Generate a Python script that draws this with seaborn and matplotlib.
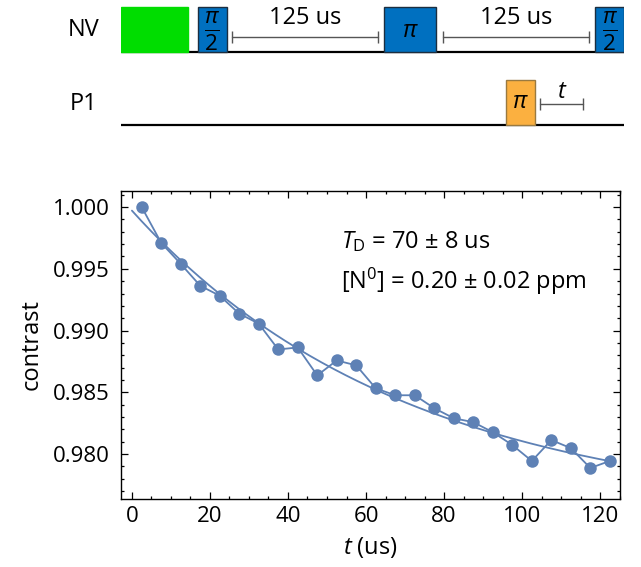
import numpy as np
import pandas as pd
import matplotlib
matplotlib.use("Agg")
import matplotlib.pyplot as plt
from matplotlib.ticker import MultipleLocator, FormatStrFormatter
import seaborn as sns

# ---- measured data (DEER decay) ----
t_us = [2.5, 7.5, 12.5, 17.5, 22.5, 27.5, 32.5, 37.5, 42.5, 47.5, 52.5, 57.5,
        62.5, 67.5, 72.5, 77.5, 82.5, 87.5, 92.5, 97.5, 102.5, 107.5, 112.5,
        117.5, 122.5]
contrast = [1.0000, 0.99710, 0.99540, 0.99363, 0.99282, 0.99137, 0.99056,
            0.98847, 0.98863, 0.98637, 0.98758, 0.98718, 0.98532, 0.98476,
            0.98476, 0.98371, 0.98290, 0.98258, 0.98177, 0.98073, 0.97944,
            0.98113, 0.98048, 0.97887, 0.97944]
td_us = 70  # decay time from the fit annotation

# ---- pulse sequence (schematic units) ----
nv_starts = [0, 77, 263, 474]
nv_widths = [67, 29, 52, 29]
nv_colors = ["#00DD00", "#0070C0", "#0070C0", "#0070C0"]
nv_labels = ["", r"$\frac{\pi}{2}$", r"$\pi$", r"$\frac{\pi}{2}$"]
nv_gaps = [(111, 257), (322, 468)]
gap_label = "125 us"
p1_starts = [385]
p1_widths = [29]
p1_labels = [r"$\pi$"]
p1_gap = (419, 462)
seq_end = 503

data_color = "#5E81B5"
TICK_FS = 16
FS = 17

sns.set_theme(style="ticks")
plt.rcParams["font.family"] = ["Open Sans", "DejaVu Sans"]
plt.rcParams["mathtext.fontset"] = "custom"
plt.rcParams["mathtext.rm"] = "Open Sans"
plt.rcParams["mathtext.it"] = "Open Sans:italic"
for key in ["text.color", "axes.labelcolor", "xtick.color", "ytick.color"]:
    plt.rcParams[key] = "black"

fig = plt.figure(figsize=(6.41, 5.67), dpi=100)

# ---------- pulse sequence panel ----------
W, H = 641, 567
seq_ax = fig.add_axes([121 / W, 1 - 135 / H, seq_end / W, 135 / H])
seq_ax.set_xlim(0, seq_end)
seq_ax.set_ylim(-10 / 45, 125 / 45)
seq_ax.axis("off")

nv_base = 73 / 45
p1_base = 0.0

seq_ax.plot([0, seq_end], [nv_base, nv_base], color="black", lw=1.6, zorder=1)
seq_ax.plot([0, seq_end], [p1_base, p1_base], color="black", lw=1.6, zorder=1)

for i, (s, w, c, lab) in enumerate(zip(nv_starts, nv_widths, nv_colors, nv_labels)):
    edge = c if i == 0 else "#1c2e40"
    seq_ax.bar(s, 1, width=w, bottom=nv_base, align="edge", color=c,
               edgecolor=edge, linewidth=1.0, zorder=2)
    if lab:
        seq_ax.text(s + w / 2, nv_base + 0.46, lab, ha="center", va="center",
                    fontsize=23 if "frac" in lab else 17, zorder=3)

for s, w, lab in zip(p1_starts, p1_widths, p1_labels):
    seq_ax.bar(s, 1, width=w, bottom=p1_base, align="edge", color="#FBB040",
               edgecolor="#9a7a40", linewidth=1.0, zorder=2)
    seq_ax.text(s + w / 2, p1_base + 0.5, lab, ha="center", va="center",
                fontsize=17, zorder=3)

gap_y = nv_base + 15 / 45
for g0, g1 in nv_gaps:
    seq_ax.plot([g0, g1], [gap_y, gap_y], color="#555555", lw=1.0,
                marker="|", markersize=9, markeredgewidth=1.0)
    seq_ax.text((g0 + g1) / 2, nv_base + 34 / 45, gap_label, ha="center",
                va="center", fontsize=FS)

t_y = p1_base + 21 / 45
seq_ax.plot(list(p1_gap), [t_y, t_y], color="#555555", lw=1.0,
            marker="|", markersize=9, markeredgewidth=1.0)
seq_ax.text(sum(p1_gap) / 2, p1_base + 33 / 45, "t", style="italic",
            ha="center", va="center", fontsize=FS)

seq_ax.text(-37, nv_base + 0.5, "NV", ha="center", va="center", fontsize=FS,
            clip_on=False)
seq_ax.text(-37, p1_base + 0.47, "P1", ha="center", va="center", fontsize=FS,
            clip_on=False)

# ---------- decay panel ----------
ax = fig.add_axes([121 / W, 1 - 499 / H, 499 / W, 308 / H])

df = pd.DataFrame({"t": t_us, "contrast": contrast})

# least squares fit of offset + amplitude for a fixed decay time
basis = np.column_stack([np.ones(len(t_us)), np.exp(-np.array(t_us) / td_us)])
coef, *_ = np.linalg.lstsq(basis, np.array(contrast), rcond=None)
t_fit = np.linspace(0, max(t_us), 200)
fit_df = pd.DataFrame({"t": t_fit,
                       "contrast": coef[0] + coef[1] * np.exp(-t_fit / td_us)})

sns.lineplot(data=fit_df, x="t", y="contrast", ax=ax, color=data_color, lw=1.3)
sns.lineplot(data=df, x="t", y="contrast", ax=ax, color=data_color, lw=1.3,
             marker="o", markersize=9, markeredgewidth=0, markeredgecolor=data_color)

ax.set_xlim(-2.8, 125.1)
ax.set_ylim(0.97636, 1.0013)
ax.xaxis.set_major_locator(MultipleLocator(20))
ax.xaxis.set_minor_locator(MultipleLocator(5))
ax.yaxis.set_major_locator(MultipleLocator(0.005))
ax.yaxis.set_minor_locator(MultipleLocator(0.001))
ax.yaxis.set_major_formatter(FormatStrFormatter("%.3f"))
ax.tick_params(which="both", direction="in", top=True, right=True,
               labelsize=TICK_FS, color="black", width=0.9)
ax.tick_params(which="major", length=5)
ax.tick_params(axis="x", which="major", pad=5)
ax.tick_params(axis="y", which="major", pad=8)
ax.tick_params(which="minor", length=2.5)
for sp in ax.spines.values():
    sp.set_linewidth(1.0)
    sp.set_color("black")

ax.set_xlabel("")
ax.set_ylabel("contrast", fontsize=FS, labelpad=7)
ax.text(0.5, -0.158, "$t$ (us)", transform=ax.transAxes, ha="center",
        va="center", fontsize=FS)

ax.text(0.441, 0.834, r"$T_{\rm D}$ = 70 ± 8 us", transform=ax.transAxes,
        ha="left", va="center", fontsize=FS)
ax.text(0.441, 0.705, r"[N$^{0}$] = 0.20 ± 0.02 ppm", transform=ax.transAxes,
        ha="left", va="center", fontsize=FS)

fig.savefig("out.png", dpi=100)
